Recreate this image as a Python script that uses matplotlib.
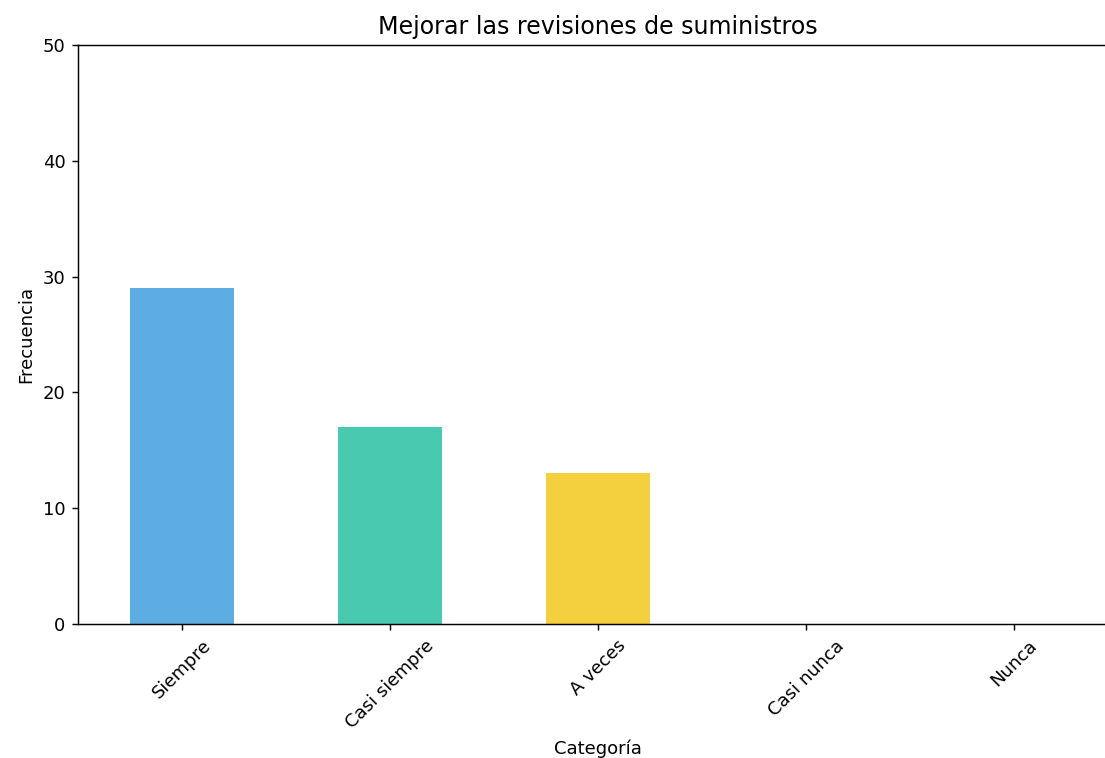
import numpy as np
from matplotlib import pyplot as plt

# data
categorias = ["Siempre", "Casi siempre", "A veces", "Casi nunca", "Nunca"]
frecuencia = [29, 17, 13, 0, 0]
colores = ["#5DADE2", "#48C9B0", "#F4D03F", "#EC7063", "#AF7AC5"]

DPI = 130
fig = plt.figure(figsize=(1105 / DPI, 758 / DPI), dpi=DPI)
# the right edge of the axes runs past the image, as in the reference
ax = fig.add_axes([0.0706, 0.1768, 0.9412, 0.7638])

x = np.arange(len(categorias))
ax.bar(x, frecuencia, width=0.5, color=colores)
ax.set_xlim(-0.5, 4.5)
ax.set_ylim(0, 50)
ax.set_xticks(x)
ax.set_xticklabels(categorias, rotation=45)
ax.set_title("Mejorar las revisiones de suministros", fontsize=13.2)
ax.set_xlabel("Categoría")
ax.set_ylabel("Frecuencia")

fig.savefig("out.png", dpi=DPI)
